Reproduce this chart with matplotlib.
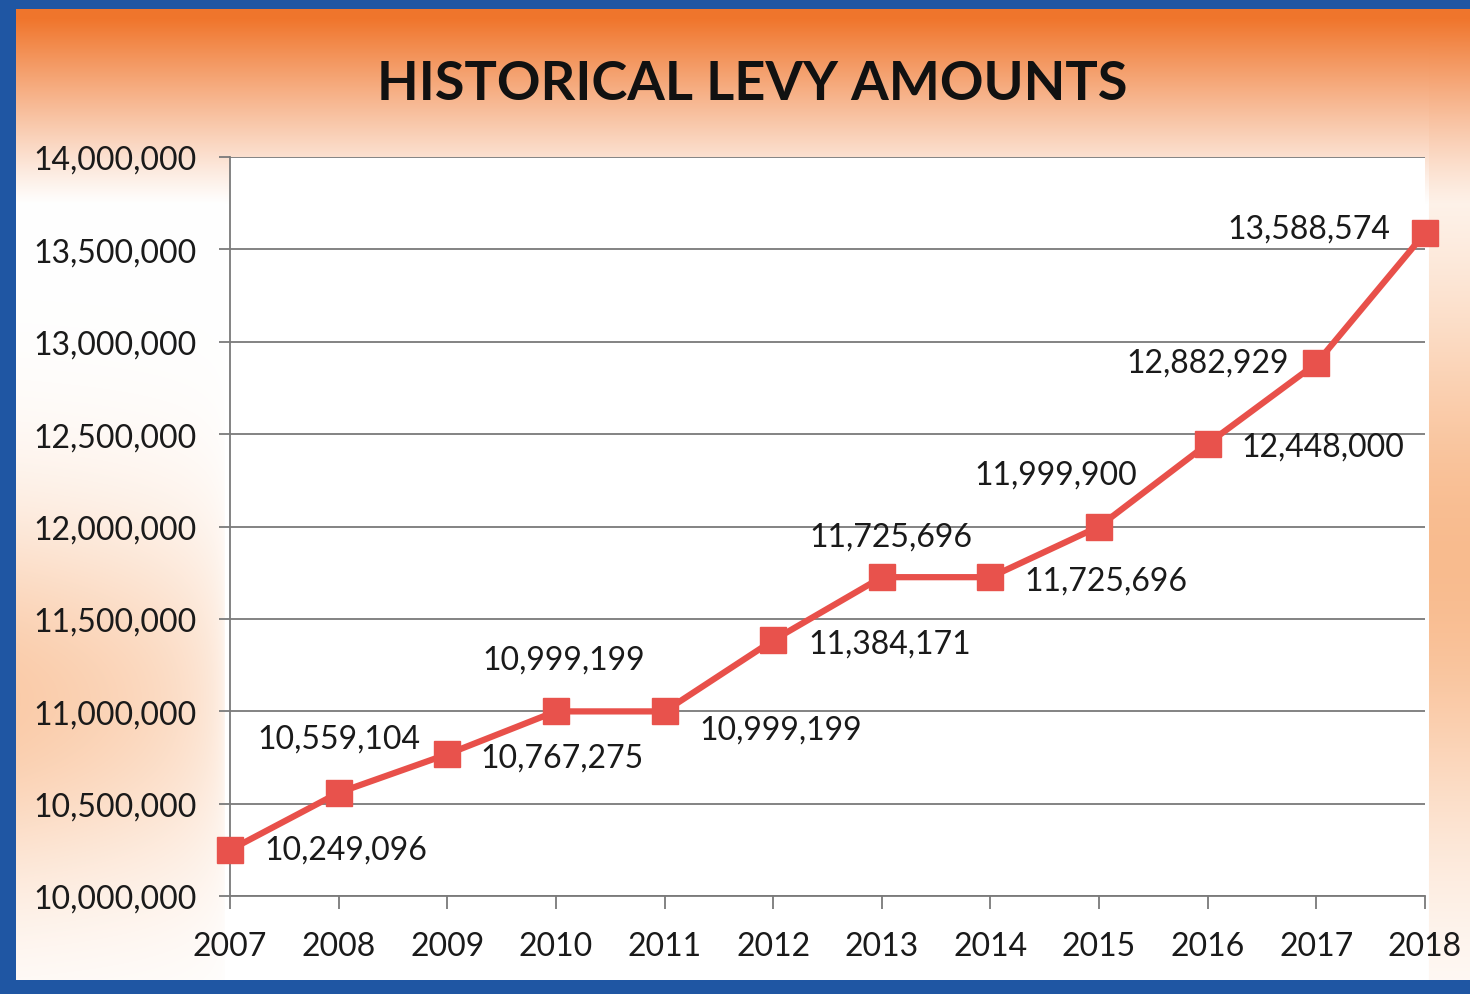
import numpy as np
import matplotlib
matplotlib.use('Agg')
import matplotlib.pyplot as plt
from matplotlib.patches import Rectangle
from matplotlib.ticker import FuncFormatter

# Levy amounts by year
years = [2007, 2008, 2009, 2010, 2011, 2012, 2013, 2014, 2015, 2016, 2017, 2018]
levy = [10249096, 10559104, 10767275, 10999199, 10999199, 11384171,
        11725696, 11725696, 11999900, 12448000, 12882929, 13588574]
y_ticks = [10000000, 10500000, 11000000, 11500000, 12000000,
           12500000, 13000000, 13500000, 14000000]

# where each value label sits relative to its marker (pixels, ha)
label_pos = [(34, 0, 'left'), (0, 54, 'center'), (33, -3, 'left'),
             (8, 52, 'center'), (35, -18, 'left'), (35, -3, 'left'),
             (9, 41, 'center'), (34, -3, 'left'), (-43, 52, 'center'),
             (34, -3, 'left'), (-27, 1, 'right'), (-35, 4, 'right')]

plt.rcParams['font.family'] = ['Lato', 'DejaVu Sans']

W, H = 1470, 995
fig = plt.figure(figsize=(W / 100, H / 100), dpi=100)

# background: orange band at top fading to white, peach along the sides
yy, xx = np.mgrid[0:H, 0:W].astype(float)
orange = np.array([240, 118, 45]) / 255
peach = np.array([248, 180, 130]) / 255
top = np.clip((205 - yy) / 185, 0, 1) ** 1.1
left = np.clip((225 - xx) / 225, 0, 1) ** 0.3 * np.exp(-((yy - 700) / 190) ** 2) * 0.7
right = (xx > 1428) * np.exp(-((yy - 560) / 280) ** 2) * 0.9
side = np.clip(left + right, 0, 1)
img = np.ones((H, W, 3))
img = img * (1 - side[..., None]) + peach * side[..., None]
img = img * (1 - top[..., None]) + orange * top[..., None]
bg = fig.add_axes([0, 0, 1, 1], zorder=-2)
bg.imshow(img, aspect='auto', extent=(0, W, H, 0))
bg.axis('off')

# blue frame
blue = '#1f56a3'
for x0, y0, w, h in [(0, 0, 16, H), (0, H - 10, W, 10), (0, 0, W, 14)]:
    fig.add_artist(Rectangle((x0 / W, y0 / H), w / W, h / H, transform=fig.transFigure,
                             facecolor=blue, edgecolor='none', zorder=5))

ax = fig.add_axes([230 / W, 1 - 897 / H, (1425 - 230) / W, (897 - 158) / H])
ax.set_facecolor('white')

ax.plot(years, levy, color='#e8504a', lw=4.5, marker='s', markersize=19,
        markerfacecolor='#e8524c', markeredgecolor='#e8524c', zorder=4, clip_on=False)

for yr, val, (dx, dy, ha) in zip(years, levy, label_pos):
    ax.annotate(f'{val:,}', (yr, val), xytext=(dx, dy), textcoords='offset pixels',
                ha=ha, va='center', fontsize=23, color='#1a1a1a', zorder=5)

ax.set_xlim(2007, 2018)
ax.set_ylim(10000000, 14000000)
ax.set_xticks(years)
ax.set_yticks(y_ticks)
ax.yaxis.set_major_formatter(FuncFormatter(lambda v, p: f'{int(v):,}'))
ax.grid(axis='y', color='#7a7a7a', lw=1.3)
ax.set_axisbelow(True)
for s in ['top', 'right']:
    ax.spines[s].set_visible(False)
for s in ['left', 'bottom']:
    ax.spines[s].set_color('#7a7a7a')
    ax.spines[s].set_linewidth(1.3)
ax.tick_params(axis='y', length=8, width=1.3, color='#7a7a7a', pad=16,
               labelsize=23, labelcolor='#1a1a1a')
ax.tick_params(axis='x', length=9, width=1.3, color='#7a7a7a', pad=16,
               labelsize=23, labelcolor='#1a1a1a')

fig.text(752 / W, 1 - 84 / H, 'HISTORICAL LEVY AMOUNTS', ha='center', va='center',
         fontsize=39, fontweight='bold', color='#111111')

fig.savefig('out.png', dpi=100)
